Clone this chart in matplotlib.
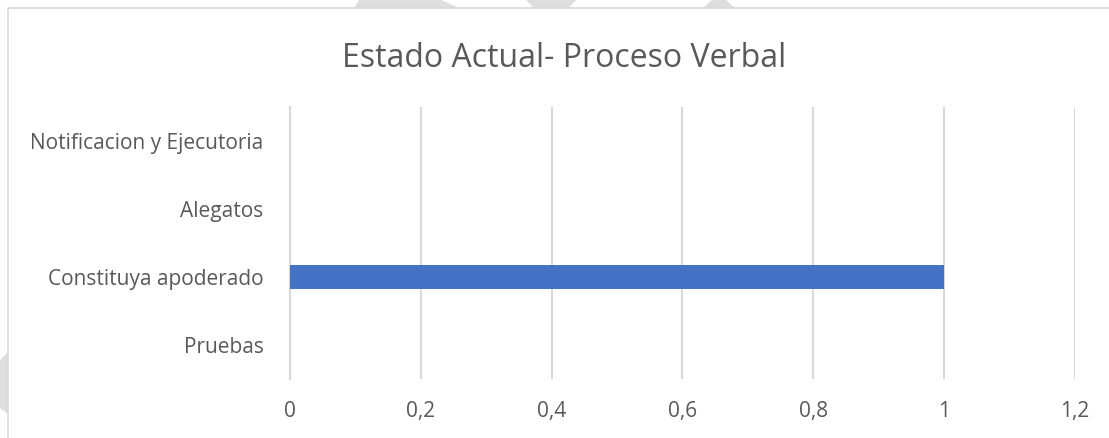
import matplotlib.pyplot as plt

# datos del grafico
etapas = ["Pruebas", "Constituya apoderado", "Alegatos", "Notificacion y Ejecutoria"]
valores = [0, 1, 0, 0]
ticks_x = [0, 0.2, 0.4, 0.6, 0.8, 1.0, 1.2]
ticks_x_txt = ["0", "0,2", "0,4", "0,6", "0,8", "1", "1,2"]

plt.rcParams['font.family'] = ['Open Sans', 'DejaVu Sans']
gris = '#595959'
W, H = 1109, 438

fig = plt.figure(figsize=(11.09, 4.38), dpi=100)

# fondo: formas grises del documento y borde del grafico (en pixeles)
bg = fig.add_axes([0, 0, 1, 1], zorder=-1)
bg.set_xlim(0, W)
bg.set_ylim(H, 0)
bg.axis('off')
formas = [
    ([359, 441, 459, 354], [0, 0, 8, 8]),
    ([526, 576, 569, 534], [0, 0, 8, 8]),
    ([712, 726, 735, 703], [0, 0, 8, 8]),
    ([0, 8, 8, 0], [360, 352, 414, 408]),
]
for xs, ys in formas:
    bg.fill(xs, ys, color='#dedede', lw=0)
bg.plot([8, 8, W + 5], [H + 5, 8, 8], color='#d9d9d9', lw=1.2)

ax = fig.add_axes([0.2615, 0.1347, 0.7078, 0.621])
ax.barh(range(len(etapas)), valores, height=0.355, color='#4472c4', zorder=3)
ax.set_xlim(0, 1.2)
ax.set_ylim(-0.5, len(etapas) - 0.5)
ax.set_xticks(ticks_x)
ax.set_xticklabels(ticks_x_txt)
ax.set_yticks(range(len(etapas)))
ax.set_yticklabels(etapas)
ax.tick_params(axis='both', length=0, labelsize=15, colors=gris)
ax.tick_params(axis='x', pad=16)
ax.tick_params(axis='y', pad=19)
ax.grid(axis='x', color='#d9d9d9', linewidth=1.5, zorder=0)
for s in ['top', 'right', 'bottom']:
    ax.spines[s].set_visible(False)
ax.spines['left'].set_color('#d9d9d9')
ax.spines['left'].set_linewidth(1.5)

fig.text(0.5085, 0.867, "Estado Actual- Proceso Verbal", ha='center', va='center',
         fontsize=23, color=gris)

plt.savefig('out.png', dpi=100)
